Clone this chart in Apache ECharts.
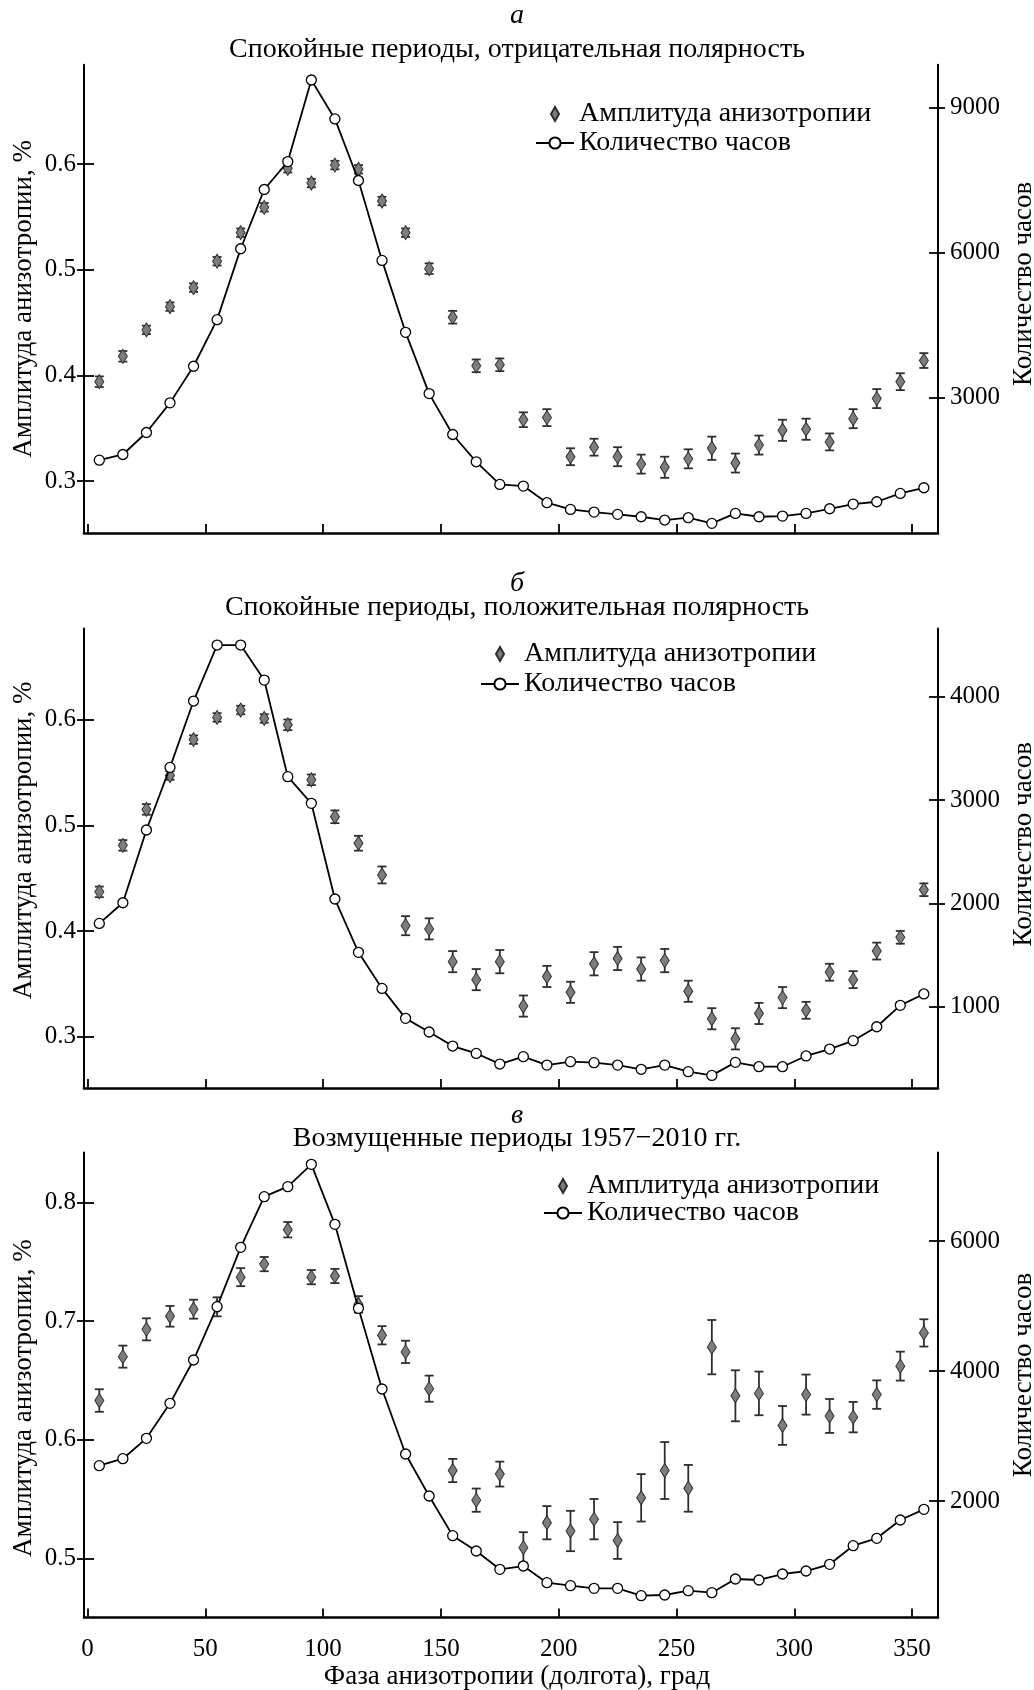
<!DOCTYPE html>
<html>
<head>
<meta charset="utf-8">
<script src="https://cdn.jsdelivr.net/npm/echarts@6/dist/echarts.min.js"></script>
<style>html,body{margin:0;padding:0;background:#fff}#c{width:1034px;height:1690px}</style>
</head>
<body>
<div id="c"></div>
<script>
// ---------------- DATA ----------------
const phase = [5,15,25,35,45,55,65,75,85,95,105,115,125,135,145,155,165,175,185,195,205,215,225,235,245,255,265,275,285,295,305,315,325,335,345,355];

const xTicks = [0,50,100,150,200,250,300,350];

// а: Спокойные периоды, отрицательная полярность
const ampA = [0.394,0.418,0.443,0.465,0.483,0.508,0.535,0.559,0.596,0.582,0.599,0.595,0.565,0.535,0.501,0.455,0.409,0.410,0.358,0.360,0.323,0.332,0.323,0.316,0.313,0.321,0.331,0.317,0.334,0.348,0.349,0.337,0.359,0.378,0.394,0.414];
const errA = [0.005,0.005,0.004,0.004,0.004,0.004,0.004,0.004,0.004,0.004,0.004,0.004,0.004,0.004,0.005,0.006,0.006,0.006,0.007,0.008,0.008,0.008,0.009,0.009,0.010,0.009,0.011,0.009,0.009,0.010,0.010,0.008,0.009,0.009,0.008,0.007];
const hoursA = [1706,1823,2277,2890,3647,4610,6076,7300,7878,9564,8759,7486,5835,4348,3082,2236,1672,1204,1170,826,688,633,585,536,468,516,399,605,536,550,605,701,798,846,1018,1135];
const leftTicksA = [0.3,0.4,0.5,0.6];
const rightTicksA = [3000,6000,9000];

// б: Спокойные периоды, положительная полярность
const ampB = [0.437,0.481,0.515,0.547,0.581,0.602,0.609,0.601,0.595,0.543,0.508,0.483,0.453,0.405,0.402,0.371,0.354,0.371,0.329,0.357,0.342,0.369,0.374,0.364,0.372,0.343,0.317,0.298,0.322,0.337,0.325,0.361,0.354,0.381,0.394,0.439];
const errB = [0.005,0.005,0.005,0.004,0.004,0.004,0.004,0.004,0.005,0.005,0.006,0.007,0.008,0.009,0.010,0.010,0.010,0.011,0.010,0.010,0.010,0.011,0.011,0.011,0.011,0.010,0.010,0.010,0.010,0.010,0.008,0.008,0.008,0.008,0.006,0.006];
const hoursB = [1806,2006,2710,3316,3958,4500,4500,4161,3226,2968,2042,1526,1177,887,755,619,548,445,516,435,468,458,435,394,435,371,335,461,419,419,523,590,671,806,1013,1123];
const leftTicksB = [0.3,0.4,0.5,0.6];
const rightTicksB = [1000,2000,3000,4000];

// в: Возмущенные периоды 1957–2010 гг.
const ampC = [0.633,0.670,0.693,0.704,0.710,0.712,0.737,0.748,0.777,0.737,0.738,0.714,0.688,0.674,0.643,0.574,0.549,0.571,0.509,0.530,0.523,0.533,0.515,0.551,0.574,0.559,0.678,0.637,0.639,0.612,0.638,0.620,0.619,0.638,0.662,0.690];
const errC = [0.0095,0.0093,0.0093,0.0087,0.008,0.008,0.0076,0.006,0.0065,0.006,0.006,0.007,0.0077,0.0094,0.011,0.0098,0.0098,0.0105,0.013,0.014,0.017,0.017,0.0155,0.020,0.024,0.0197,0.0229,0.0215,0.0184,0.0164,0.0169,0.0143,0.0128,0.012,0.0122,0.0115];
const hoursC = [2544,2651,2964,3503,4169,4990,5903,6682,6836,7179,6256,4964,3723,2723,2077,1467,1231,949,1000,744,698,657,657,544,554,621,590,800,785,877,923,1026,1313,1426,1708,1872];
const leftTicksC = [0.5,0.6,0.7,0.8];
const rightTicksC = [2000,4000,6000];

const letters = ['а','б','в'];
const titles = ['Спокойные периоды, отрицательная полярность','Спокойные периоды, положительная полярность','Возмущенные периоды 1957\u22122010 гг.'];
const ampName = 'Амплитуда анизотропии';
const hoursName = 'Количество часов';
const leftAxisName = 'Амплитуда анизотропии, %';
const rightAxisName = 'Количество часов';
const xAxisName = 'Фаза анизотропии (долгота), град';

// ---------------- LAYOUT ----------------
const FONT = 'Liberation Serif';
const FS = 28;      // titles, legend
const NFS = 27;     // axis names
const TFS = 25;     // tick labels
const DIAMOND = 'path://M4 0L8 7L4 14L0 7Z';
const gridLeft = 84, gridRight = 96;
const xMin = -1.5, xMax = 361;

const panels = [
  {amp: ampA, err: errA, hours: hoursA, lt: leftTicksA, rt: rightTicksA,
   top: 64.7, bottom: 533, lmin: 0.2508, lmax: 0.694, rmin: 200, rmax: 9880,
   letterTop: -3.5, titleTop: 35.5, legLeft: 535, legTop: 100, legGap: 1, lShift: 0, rShift: 15},
  {amp: ampB, err: errB, hours: hoursB, lt: leftTicksB, rt: rightTicksB,
   top: 628.6, bottom: 1088, lmin: 0.2515, lmax: 0.686, rmin: 213, rmax: 4659,
   letterTop: 564.5, titleTop: 593.5, legLeft: 480, legTop: 640, legGap: 2, lShift: 18, rShift: 14},
  {amp: ampC, err: errC, hours: hoursC, lt: leftTicksC, rt: rightTicksC,
   top: 1152.6, bottom: 1617.5, lmin: 0.4501, lmax: 0.842, rmin: 208, rmax: 7360,
   letterTop: 1096.5, titleTop: 1124.5, legLeft: 543, legTop: 1172, legGap: -1, lShift: -13, rShift: 10}
];
const xNameTop = 1663;

function namePad(s) { // s>0 shifts rotated (90deg) name upward
  return s >= 0 ? [0, 0, 0, 2 * s] : [0, -2 * s, 0, 0];
}

const grid = [], xAxis = [], yAxis = [], series = [], title = [], legend = [];

function renderErr(params, api) {
  const x = api.value(0);
  const p1 = api.coord([x, api.value(1)]);
  const p2 = api.coord([x, api.value(2)]);
  const w = 4.5;
  const st = {stroke: '#2e2e2e', lineWidth: 1.8};
  return {type: 'group', children: [
    {type: 'line', shape: {x1: p1[0], y1: p1[1], x2: p2[0], y2: p2[1]}, style: st},
    {type: 'line', shape: {x1: p1[0] - w, y1: p1[1], x2: p1[0] + w, y2: p1[1]}, style: st},
    {type: 'line', shape: {x1: p2[0] - w, y1: p2[1], x2: p2[0] + w, y2: p2[1]}, style: st}
  ]};
}

panels.forEach((p, g) => {
  grid.push({left: gridLeft, right: gridRight, top: p.top, height: p.bottom - p.top,
             containLabel: false, outerBoundsMode: 'none'});
  const last = g === panels.length - 1;
  xAxis.push({
    type: 'value', gridIndex: g, min: xMin, max: xMax,
    axisLine: {show: true, onZero: false, lineStyle: {color: '#000', width: 2.6}},
    axisTick: {show: true, inside: true, length: 9, lineStyle: {color: '#000', width: 1.8}, customValues: xTicks},
    axisLabel: {show: last, customValues: xTicks, margin: 22, lineHeight: 20, color: '#000', fontFamily: FONT, fontSize: TFS,
                formatter: v => String(v)},
    splitLine: {show: false}
  });
  const lineSt = {color: '#000', width: 2};
  // left (outer ticks + labels)
  yAxis.push({
    type: 'value', gridIndex: g, position: 'left', min: p.lmin, max: p.lmax,
    axisLine: {show: true, onZero: false, lineStyle: lineSt},
    axisTick: {show: true, inside: false, length: 7, lineStyle: {color: '#000', width: 1.8}, customValues: p.lt},
    axisLabel: {show: true, customValues: p.lt, margin: 8, color: '#000', fontFamily: FONT, fontSize: TFS,
                formatter: v => String(Math.round(v * 10) / 10)},
    splitLine: {show: false},
    name: leftAxisName, nameLocation: 'middle', nameRotate: 90, nameGap: 47, nameMoveOverlap: false,
    nameTextStyle: {color: '#000', fontFamily: FONT, fontSize: NFS, padding: namePad(p.lShift)}
  });
  // right (outer ticks + labels)
  yAxis.push({
    type: 'value', gridIndex: g, position: 'right', min: p.rmin, max: p.rmax,
    axisLine: {show: true, onZero: false, lineStyle: lineSt},
    axisTick: {show: true, inside: false, length: 7, lineStyle: {color: '#000', width: 1.8}, customValues: p.rt},
    axisLabel: {show: true, customValues: p.rt, margin: 12, color: '#000', fontFamily: FONT, fontSize: TFS,
                formatter: v => String(Math.round(v))},
    splitLine: {show: false},
    name: rightAxisName, nameLocation: 'middle', nameRotate: 90, nameGap: 72, nameMoveOverlap: false,
    nameTextStyle: {color: '#000', fontFamily: FONT, fontSize: NFS, padding: namePad(p.rShift)}
  });
  // left inner ticks
  yAxis.push({
    type: 'value', gridIndex: g, position: 'left', min: p.lmin, max: p.lmax,
    axisLine: {show: false, onZero: false},
    axisTick: {show: true, inside: true, length: 10, lineStyle: {color: '#000', width: 1.8}, customValues: p.lt},
    axisLabel: {show: false}, splitLine: {show: false}
  });
  // right inner ticks
  yAxis.push({
    type: 'value', gridIndex: g, position: 'right', min: p.rmin, max: p.rmax,
    axisLine: {show: false, onZero: false},
    axisTick: {show: true, inside: true, length: 9, lineStyle: {color: '#000', width: 1.8}, customValues: p.rt},
    axisLabel: {show: false}, splitLine: {show: false}
  });

  const yl = 4 * g, yr = 4 * g + 1;
  series.push({
    type: 'custom', name: 'err' + g, xAxisIndex: g, yAxisIndex: yl, z: 2,
    renderItem: renderErr, encode: {x: 0, y: [1, 2]},
    data: phase.map((x, i) => [x, p.amp[i] - p.err[i], p.amp[i] + p.err[i]]),
    silent: true
  });
  series.push({
    type: 'scatter', name: ampName, xAxisIndex: g, yAxisIndex: yl, z: 3,
    symbol: DIAMOND, symbolSize: [9, 14],
    itemStyle: {color: '#7d7d7d', borderColor: '#2e2e2e', borderWidth: 1, opacity: 1},
    data: phase.map((x, i) => [x, p.amp[i]])
  });
  series.push({
    type: 'line', name: hoursName, xAxisIndex: g, yAxisIndex: yr, z: 4,
    symbol: 'circle', symbolSize: 10, showAllSymbol: true,
    lineStyle: {color: '#000', width: 1.8},
    itemStyle: {color: '#fff', borderColor: '#000', borderWidth: 1.3},
    data: phase.map((x, i) => [x, p.hours[i]])
  });

  title.push({text: letters[g], left: 'center', top: p.letterTop,
    textStyle: {fontFamily: FONT, fontSize: FS, fontStyle: 'italic', fontWeight: 'normal', color: '#000'}});
  title.push({text: titles[g], left: 'center', top: p.titleTop, padding: [0, 14, 0, 0],
    textStyle: {fontFamily: FONT, fontSize: FS, fontWeight: 'normal', color: '#000'}});

  legend.push({
    orient: 'vertical', left: p.legLeft, top: p.legTop, itemGap: p.legGap,
    itemWidth: 38, itemHeight: 14, selectedMode: false, padding: 0,
    textStyle: {fontFamily: FONT, fontSize: FS, color: '#000'},
    data: [{name: ampName, icon: DIAMOND}, {name: hoursName}]
  });
});

// x-axis title (shared bottom axis)
title.push({text: xAxisName, left: 'center', top: xNameTop, padding: [0, 20, 0, 0],
  textStyle: {fontFamily: FONT, fontSize: NFS, fontWeight: 'normal', color: '#000'}});

const chart = echarts.init(document.getElementById('c'), null, {renderer: 'canvas'});
chart.setOption({
  backgroundColor: '#fff',
  animation: false,
  title, legend, grid, xAxis, yAxis, series
});
</script>
</body>
</html>
